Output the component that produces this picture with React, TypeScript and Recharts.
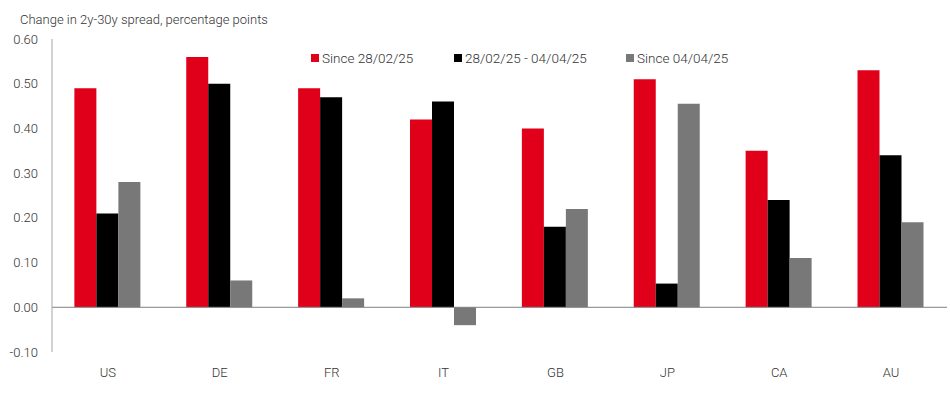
import { BarChart, Bar, XAxis, YAxis, ReferenceLine } from "recharts";

const countries = ["US", "DE", "FR", "IT", "GB", "JP", "CA", "AU"];
const sinceFeb = [0.49, 0.56, 0.49, 0.42, 0.4, 0.51, 0.35, 0.53];
const febToApr = [0.21, 0.5, 0.47, 0.46, 0.18, 0.053, 0.24, 0.34];
const sinceApr = [0.28, 0.06, 0.02, -0.04, 0.22, 0.455, 0.11, 0.19];
const yTicks = [-0.1, 0, 0.1, 0.2, 0.3, 0.4, 0.5, 0.6];

const series = [
  { key: "sinceFeb", label: "Since 28/02/25", color: "#e1001a", x: 311 },
  { key: "febToApr", label: "28/02/25 - 04/04/25", color: "#000000", x: 454 },
  { key: "sinceApr", label: "Since 04/04/25", color: "#787878", x: 626 },
];

const data = countries.map((c, i) => ({
  country: c,
  sinceFeb: sinceFeb[i],
  febToApr: febToApr[i],
  sinceApr: sinceApr[i],
}));

const font = "Roboto, 'Liberation Sans', sans-serif";
const textColor = "#333";

export default function App() {
  return (
    <div style={{ position: "fixed", left: 0, top: 0, width: 950, height: 394, background: "#fff", fontFamily: font }}>
      <div style={{ position: "absolute", left: 20, top: 12, fontSize: 13, fontWeight: 300, color: textColor }}>
        Change in 2y-30y spread, percentage points
      </div>
      {series.map(s => (
        <div
          key={s.key}
          style={{ position: "absolute", left: s.x, top: 50, display: "flex", alignItems: "center", fontSize: 13.5, fontWeight: 300, color: textColor, zIndex: 2 }}
        >
          <span style={{ display: "inline-block", width: 8, height: 8, background: s.color, marginRight: 3 }} />
          {s.label}
        </div>
      ))}
      <BarChart
        width={950}
        height={394}
        data={data}
        margin={{ top: 39, right: 3, left: 0, bottom: 0 }}
        barGap={0}
        barCategoryGap="20%"
      >
        <XAxis
          dataKey="country"
          axisLine={false}
          tickLine={false}
          tickMargin={10}
          height={42}
          tick={{ fontSize: 13, fill: textColor, fontFamily: font, fontWeight: 300 }}
        />
        <YAxis
          domain={[-0.1, 0.6]}
          ticks={yTicks}
          width={52}
          tickLine={false}
          tickMargin={8}
          axisLine={{ stroke: "#a6a6a6" }}
          tickFormatter={(v: number) => v.toFixed(2)}
          tick={{ fontSize: 13, fill: textColor, fontFamily: font, fontWeight: 300 }}
        />
        {series.map(s => (
          <Bar key={s.key} dataKey={s.key} fill={s.color} isAnimationActive={false} />
        ))}
        <ReferenceLine y={0} stroke="#808080" />
      </BarChart>
    </div>
  );
}
